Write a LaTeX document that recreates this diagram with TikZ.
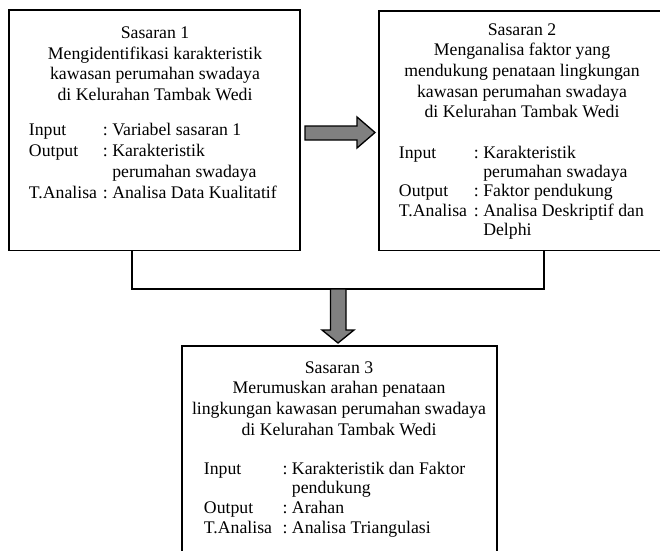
\documentclass[tikz,border=0pt]{standalone}
\usepackage{fontspec}
\setmainfont{Liberation Serif}
\usetikzlibrary{fit}

\begin{document}
\begin{tikzpicture}[x=0.75pt, y=-0.75pt, line width=0.50mm,
  box/.style={draw, inner sep=0pt},
  txt/.style={inner sep=0pt, font=\fontsize{13.3}{15.5}\selectfont},
  blockarrow/.style={draw, fill=gray, line width=0.35mm, line join=miter}]
  % page is 660 x 550 px; boxes 2 and 3 run past its edges
  \useasboundingbox (0,0) rectangle (660,550);
  \clip (0,0) rectangle (660,550);
  \node[box, fit={(9,10) (300,250.5)}] (s1) {};
  \node[box, fit={(379,11) (666,250.5)}] (s2) {};
  \node[box, fit={(182,346) (497,560)}] (s3) {};
  % Sasaran 1
  \node[txt, anchor=base] (h1) at (155,38.5) {\begin{tabular}[t]{@{}c@{}}Sasaran 1\\Mengidentifikasi karakteristik\\kawasan perumahan swadaya\\di Kelurahan Tambak Wedi\end{tabular}};
  \node[txt, anchor=base west] (t1) at (28,135.7) {\renewcommand\arraystretch{1.016}%
    \begin{tabular}[t]{@{}p{55.5pt}@{}l@{\ }l@{}}Input & : & Variabel sasaran 1\\Output & : & Karakteristik\\ & & perumahan swadaya\\T.Analisa & : & Analisa Data Kualitatif\end{tabular}};
  % Sasaran 2
  \node[txt, anchor=base] (h2) at (522,35) {\begin{tabular}[t]{@{}c@{}}Sasaran 2\\Menganalisa faktor yang\\mendukung penataan lingkungan\\kawasan perumahan swadaya\\di Kelurahan Tambak Wedi\end{tabular}};
  \node[txt, anchor=base west] (t2) at (398,158.4) {\renewcommand\arraystretch{0.93}%
    \begin{tabular}[t]{@{}p{56.25pt}@{}l@{\ }l@{}}Input & : & Karakteristik\\ & & perumahan swadaya\\Output & : & Faktor pendukung\\T.Analisa & : & Analisa Deskriptif dan\\ & & Delphi\end{tabular}};
  % Sasaran 3
  \node[txt, anchor=base] (h3) at (339,373) {\begin{tabular}[t]{@{}c@{}}Sasaran 3\\Merumuskan arahan penataan\\lingkungan kawasan perumahan swadaya\\di Kelurahan Tambak Wedi\end{tabular}};
  \node[txt, anchor=base west] (t3) at (203,474) {\renewcommand\arraystretch{0.955}%
    \begin{tabular}[t]{@{}p{59pt}@{}l@{\ }l@{}}Input & : & Karakteristik dan Faktor\\ & & pendukung\\Output & : & Arahan\\T.Analisa & : & Analisa Triangulasi\end{tabular}};
  % joining line under boxes 1 and 2
  \coordinate (j1) at (132,289);
  \coordinate (j2) at (544,289);
  \draw[line width=0.40mm] (s1.south -| j1) -- (j1) -- (j2) -- (s2.south -| j2);
  % block arrows
  \draw[blockarrow] (305,126) -- (357,126) -- (357,117) -- (375,132.5) -- (357,148) -- (357,140) -- (305,140) -- cycle;
  \draw[blockarrow] (330.5,289) -- (346,289) -- (346,330) -- (354,330) -- (338,343) -- (322,330) -- (330.5,330) -- cycle;
\end{tikzpicture}
\end{document}
